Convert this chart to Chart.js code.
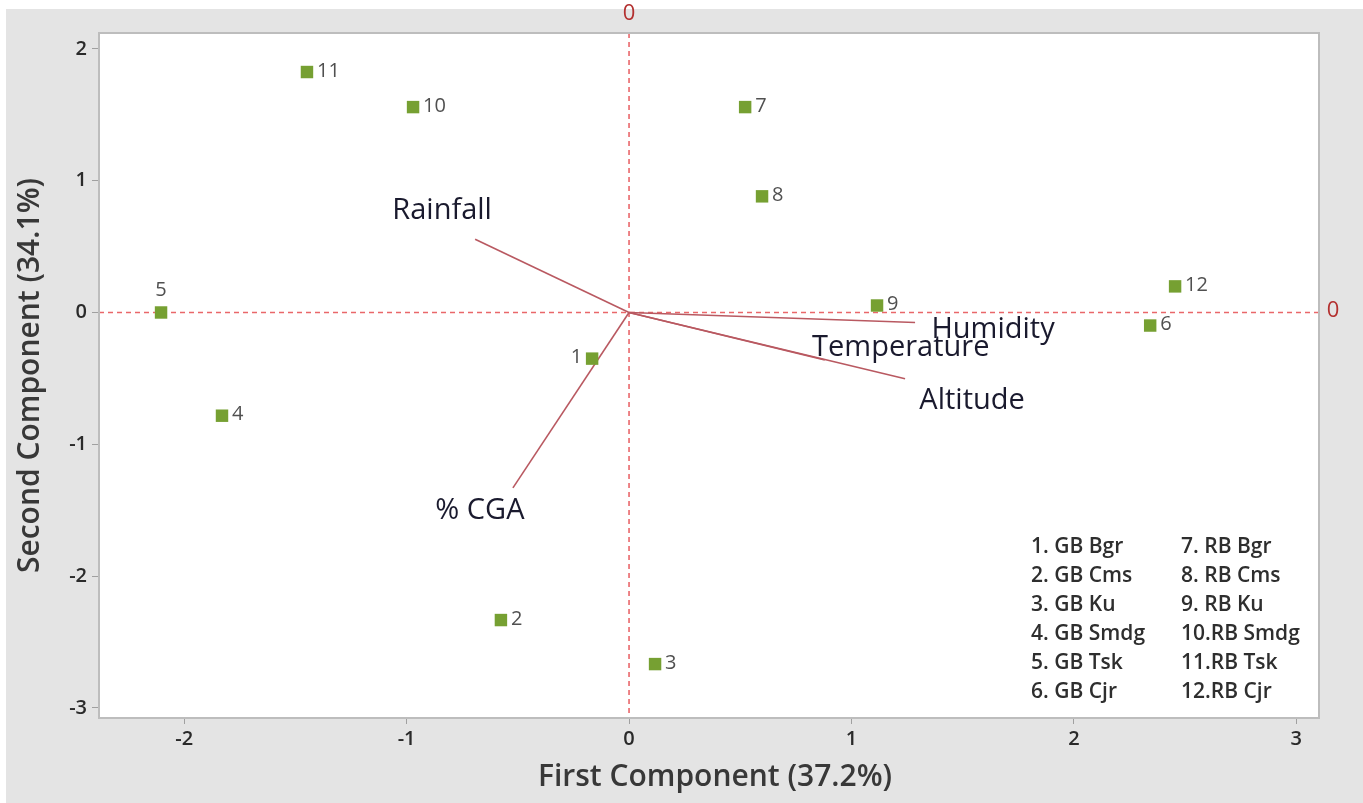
<!DOCTYPE html>
<html>
<head>
<meta charset="utf-8">
<script src="https://cdn.jsdelivr.net/npm/chart.js@4.4.1/dist/chart.umd.min.js"></script>
<style>
  html, body { margin: 0; padding: 0; background: #fff; }
  canvas { display: block; }
</style>
</head>
<body>
<canvas id="biplot" width="1363" height="803"></canvas>
<script>
// Sample scores on the first two principal components
const sampleIds = ['1', '2', '3', '4', '5', '6', '7', '8', '9', '10', '11', '12'];
const pc1Scores = [-0.166, -0.576, 0.117, -1.830, -2.104, 2.343, 0.522, 0.598, 1.115, -0.971, -1.448, 2.455];
const pc2Scores = [-0.350, -2.333, -2.667, -0.783, 0.000, -0.099, 1.558, 0.881, 0.053, 1.558, 1.824, 0.198];
const sampleNames = ['1. GB Bgr', '2. GB Cms', '3. GB Ku', '4. GB Smdg', '5. GB Tsk', '6. GB Cjr',
                     '7. RB Bgr', '8. RB Cms', '9. RB Ku', '10.RB Smdg', '11.RB Tsk', '12.RB Cjr'];

// Variable loadings (vectors from the origin)
const variableNames = ['Rainfall', 'Humidity', 'Temperature', 'Altitude', '% CGA'];
const pc1Loadings = [-0.692, 1.286, 0.880, 1.241, -0.522];
const pc2Loadings = [0.555, -0.076, -0.360, -0.502, -1.330];

// Axes
const xTickValues = [-2, -1, 0, 1, 2, 3];
const yTickValues = [2, 1, 0, -1, -2, -3];
const xTitle = 'First Component (37.2%)';
const yTitle = 'Second Component (34.1%)';

// ---- styling ----
const FONT = '"Open Sans", "Noto Sans", sans-serif';
const pointGreen = '#76a032';
const vectorColor = '#b95961';
const refLineColor = '#e9676a';
const zeroLabelColor = '#b3302f';

// where each sample number sits relative to its marker
const sampleLabelSide = { 0: 'left', 4: 'top' };
// pixel offsets of each variable name from its vector tip
const variableLabelOffset = [[-33, -29], [78, 7], [76, -12], [67, 22], [-33, 23]];

const biplotDecor = {
  id: 'biplotDecor',
  beforeDraw(chart) {
    const { ctx, chartArea: a, width, height } = chart;
    ctx.save();
    ctx.fillStyle = '#ffffff';
    ctx.fillRect(0, 0, width, height);
    ctx.fillStyle = '#e4e4e4';
    ctx.fillRect(6, 9, width - 6, height - 9);
    ctx.fillStyle = '#ffffff';
    ctx.fillRect(a.left, a.top, a.right - a.left, a.bottom - a.top);
    ctx.restore();
  },
  beforeDatasetsDraw(chart) {
    const { ctx, chartArea: a, scales: { x, y } } = chart;
    const x0 = x.getPixelForValue(0);
    const y0 = y.getPixelForValue(0);
    ctx.save();
    // dashed reference lines through the origin
    ctx.strokeStyle = refLineColor;
    ctx.lineWidth = 1.6;
    ctx.setLineDash([5, 4]);
    ctx.beginPath();
    ctx.moveTo(x0, a.top); ctx.lineTo(x0, a.bottom);
    ctx.moveTo(a.left, y0); ctx.lineTo(a.right, y0);
    ctx.stroke();
    ctx.setLineDash([]);
    // plot frame
    ctx.strokeStyle = '#bdbdbd';
    ctx.lineWidth = 2;
    ctx.strokeRect(a.left, a.top, a.right - a.left, a.bottom - a.top);
    // reference-line value labels
    ctx.fillStyle = zeroLabelColor;
    ctx.font = '22px ' + FONT;
    ctx.textAlign = 'center';
    ctx.textBaseline = 'middle';
    ctx.fillText('0', x0, 14);
    ctx.fillText('0', a.right + 14, y0 - 2);
    ctx.restore();
  },
  afterDatasetsDraw(chart) {
    const { ctx, chartArea: a } = chart;
    ctx.save();

    // sample numbers beside markers
    const pts = chart.getDatasetMeta(0).data;
    ctx.fillStyle = '#505050';
    ctx.font = '20px ' + FONT;
    ctx.textBaseline = 'middle';
    pts.forEach((p, i) => {
      const side = sampleLabelSide[i] || 'right';
      if (side === 'left') {
        ctx.textAlign = 'right';
        ctx.fillText(sampleIds[i], p.x - 10, p.y - 1);
      } else if (side === 'top') {
        ctx.textAlign = 'center';
        ctx.fillText(sampleIds[i], p.x, p.y - 22);
      } else {
        ctx.textAlign = 'left';
        ctx.fillText(sampleIds[i], p.x + 10, p.y - 1);
      }
    });

    // variable names at vector tips
    ctx.fillStyle = '#1a1a2e';
    ctx.font = '29px ' + FONT;
    ctx.textAlign = 'center';
    ctx.textBaseline = 'middle';
    variableNames.forEach((name, i) => {
      const tip = chart.getDatasetMeta(i + 1).data[1];
      const [dx, dy] = variableLabelOffset[i];
      ctx.fillText(name, tip.x + dx, tip.y + dy);
    });

    // sample key
    ctx.fillStyle = '#2e2e2e';
    ctx.font = '600 21px ' + FONT;
    ctx.textAlign = 'left';
    ctx.textBaseline = 'middle';
    sampleNames.forEach((name, i) => {
      const col = Math.floor(i / 6);
      const row = i % 6;
      ctx.fillText(name, 1031 + col * 150, 547 + row * 29);
    });

    // axis titles
    ctx.fillStyle = '#383838';
    ctx.font = '600 30px ' + FONT;
    ctx.textAlign = 'center';
    ctx.textBaseline = 'middle';
    ctx.fillText(xTitle, (a.left + a.right) / 2 + 6, 777);
    ctx.translate(30, (a.top + a.bottom) / 2);
    ctx.rotate(-Math.PI / 2);
    ctx.fillText(yTitle, 0, 0);
    ctx.restore();
  }
};

const datasets = [{
  label: 'Samples',
  data: pc1Scores.map((v, i) => ({ x: v, y: pc2Scores[i] })),
  pointStyle: 'rect',
  pointRadius: 8.8,
  pointHoverRadius: 8.8,
  backgroundColor: pointGreen,
  borderWidth: 0,
  showLine: false,
  order: 0
}];
variableNames.forEach((name, i) => {
  datasets.push({
    label: name,
    data: [{ x: 0, y: 0 }, { x: pc1Loadings[i], y: pc2Loadings[i] }],
    showLine: true,
    borderColor: vectorColor,
    borderWidth: 1.6,
    pointRadius: 0,
    pointHoverRadius: 0,
    fill: false,
    order: 1
  });
});

const tickFont = { family: FONT, size: 20, weight: '600' };

new Chart(document.getElementById('biplot'), {
  type: 'scatter',
  data: { datasets },
  options: {
    responsive: false,
    animation: false,
    events: [],
    layout: { padding: { left: 0, right: 44, top: 33, bottom: 0 } },
    plugins: { legend: { display: false }, tooltip: { enabled: false } },
    scales: {
      x: {
        type: 'linear',
        min: -2.383,
        max: 3.102,
        afterBuildTicks: s => { s.ticks = xTickValues.map(v => ({ value: v })); },
        afterFit: s => { s.height = 85; },
        ticks: { color: '#2a2a2a', font: tickFont, padding: 3, maxRotation: 0, autoSkip: false },
        grid: { display: true, drawOnChartArea: false, drawTicks: true, tickLength: 6, color: '#a0a0a0', lineWidth: 1 },
        border: { display: false }
      },
      y: {
        type: 'linear',
        min: -3.076,
        max: 2.12,
        afterBuildTicks: s => { s.ticks = yTickValues.map(v => ({ value: v })); },
        afterFit: s => { s.width = 99; },
        ticks: { color: '#2a2a2a', font: tickFont, padding: 5, autoSkip: false },
        grid: { display: true, drawOnChartArea: false, drawTicks: true, tickLength: 7, color: '#a0a0a0', lineWidth: 1 },
        border: { display: false }
      }
    }
  },
  plugins: [biplotDecor]
});
</script>
</body>
</html>
